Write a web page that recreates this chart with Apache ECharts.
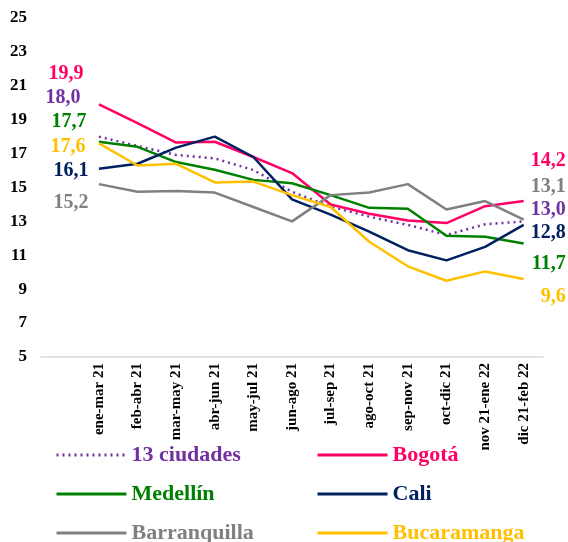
<!DOCTYPE html>
<html>
<head>
<meta charset="utf-8">
<script src="https://cdn.jsdelivr.net/npm/echarts@6/dist/echarts.min.js"></script>
<style>
  html, body { margin: 0; padding: 0; background: #fff; }
  #chart { width: 568px; height: 542px; }
</style>
</head>
<body>
<div id="chart"></div>
<script>
// periodos moviles trimestrales
const categories = ['ene-mar 21', 'feb-abr 21', 'mar-may 21', 'abr-jun 21', 'may-jul 21', 'jun-ago 21',
  'jul-sep 21', 'ago-oct 21', 'sep-nov 21', 'oct-dic 21', 'nov 21-ene 22', 'dic 21-feb 22'];
const yTicks = { min: 5, max: 25, step: 2 };

const ciudades13 = [18.0, 17.45, 16.92, 16.72, 16.03, 14.75, 13.87, 13.28, 12.79, 12.2, 12.83, 13.0];
const bogota = [19.9, 18.8, 17.65, 17.7, 16.8, 15.85, 14.0, 13.45, 13.05, 12.9, 13.9, 14.2];
const medellin = [17.7, 17.4, 16.5, 16.05, 15.45, 15.25, 14.55, 13.8, 13.75, 12.15, 12.1, 11.7];
const cali = [16.1, 16.4, 17.35, 18.0, 16.8, 14.3, 13.4, 12.4, 11.3, 10.7, 11.5, 12.8];
const barranquilla = [15.2, 14.75, 14.8, 14.7, 13.85, 13.0, 14.55, 14.7, 15.2, 13.7, 14.2, 13.1];
const bucaramanga = [17.6, 16.3, 16.4, 15.3, 15.35, 14.55, 13.85, 11.8, 10.35, 9.5, 10.05, 9.6];

const FONT = 'Liberation Serif';

// nombre, datos, color, tipo de linea, offset etiqueta inicio / fin, posicion leyenda
const cities = [
  { name: '13 ciudades', data: ciudades13, color: '#7030A0', type: [2, 4], first: [-36, -39], last: [-12], leg: [50, 439] },
  { name: 'Bogotá', data: bogota, color: '#FF0066', type: 'solid', first: [-33, -31], last: [-40], leg: [311, 439] },
  { name: 'Medellín', data: medellin, color: '#008000', type: 'solid', first: [-30, -20], last: [20], leg: [50, 478] },
  { name: 'Cali', data: cali, color: '#002060', type: 'solid', first: [-28, 2], last: [8], leg: [311, 478] },
  { name: 'Barranquilla', data: barranquilla, color: '#808080', type: 'solid', first: [-28, 19], last: [-33], leg: [50, 517] },
  { name: 'Bucaramanga', data: bucaramanga, color: '#FFC000', type: 'solid', first: [-31, 3], last: [18], leg: [311, 517] }
];

const fmt = v => v.toFixed(1).replace('.', ',');

function buildSeries(c) {
  const n = c.data.length;
  const pts = c.data.map((v, i) => {
    if (i === 0) {
      return { value: v, label: { show: true, position: 'inside', align: 'center', offset: c.first } };
    }
    if (i === n - 1) {
      return { value: v, label: { show: true, position: 'inside', align: 'right', offset: [42, c.last[0]] } };
    }
    return v;
  });
  return {
    name: c.name,
    type: 'line',
    data: [null].concat(pts),
    symbol: 'circle',
    symbolSize: 0,
    showSymbol: true,
    lineStyle: { color: c.color, width: 2.5, type: c.type },
    itemStyle: { color: c.color },
    label: {
      show: false,
      formatter: p => fmt(p.value),
      color: c.color,
      fontFamily: FONT,
      fontWeight: 'bold',
      fontSize: 20
    },
    emphasis: { disabled: true },
    animation: false
  };
}

const chart = echarts.init(document.getElementById('chart'), null, { renderer: 'canvas' });

chart.setOption({
  backgroundColor: '#fff',
  grid: { left: 41, right: 25, top: 18, bottom: 185 },
  legend: cities.map(c => ({
    data: [c.name],
    left: c.leg[0],
    top: c.leg[1],
    itemWidth: 70,
    itemHeight: 14,
    selectedMode: false,
    itemStyle: { opacity: 0 },
    lineStyle: { width: 3 },
    textStyle: { color: c.color, fontFamily: FONT, fontWeight: 'bold', fontSize: 22, lineHeight: 22 }
  })),
  xAxis: {
    type: 'category',
    data: [''].concat(categories),
    boundaryGap: true,
    axisLine: { lineStyle: { color: '#D9D9D9', width: 1.5 } },
    axisTick: { show: false },
    axisLabel: { interval: 0, rotate: 90, margin: 6, color: '#000', fontFamily: FONT, fontWeight: 'bold', fontSize: 15 }
  },
  yAxis: {
    type: 'value',
    min: yTicks.min,
    max: yTicks.max,
    interval: yTicks.step,
    axisLine: { show: false },
    axisTick: { show: false },
    splitLine: { show: false },
    axisLabel: { margin: 14, color: '#000', fontFamily: FONT, fontWeight: 'bold', fontSize: 17 }
  },
  series: cities.map(buildSeries)
});
</script>
</body>
</html>
